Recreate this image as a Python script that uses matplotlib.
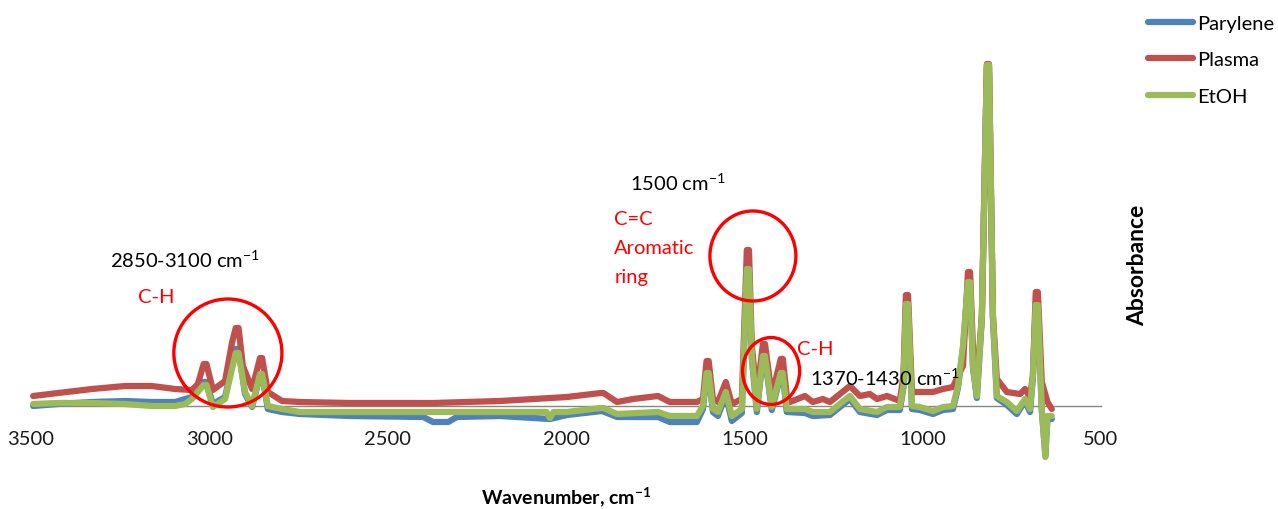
import matplotlib
matplotlib.use("Agg")
import matplotlib.pyplot as plt
from matplotlib.patches import Ellipse

plt.rcParams["font.family"] = ["Lato", "DejaVu Sans"]
plt.rcParams["mathtext.default"] = "regular"

# FTIR spectra: wavenumber (cm-1) and absorbance for each sample
wn_parylene = [3494, 3424, 3329, 3236, 3161, 3096, 3049, 3016, 3008, 2990, 2956, 2926, 2918, 2900,
               2880, 2858, 2852, 2836, 2796, 2746, 2606, 2400, 2373, 2330, 2306, 2185, 2045, 1997, 1899,
               1857, 1742, 1709, 1633, 1616, 1606, 1600, 1588, 1574, 1552, 1535, 1507, 1493, 1487,
               1479, 1465, 1448, 1442, 1423, 1398, 1392, 1381, 1330, 1308, 1260, 1204, 1176, 1128,
               1100, 1064, 1054, 1047, 1041, 1030, 1008, 971, 943, 915, 901, 887, 873, 867, 859,
               848, 834, 820, 814, 803, 792, 764, 736, 713, 699, 691, 683, 677, 666, 656, 650, 638]
abs_parylene = [0.000, 0.002, 0.004, 0.005, 0.004, 0.004, 0.009, 0.024, 0.024, 0.002, 0.009, 0.057, 0.057, 0.012,
                -0.001, 0.031, 0.031, -0.003, -0.006, -0.008, -0.010, -0.011, -0.016, -0.016, -0.011, -0.010, -0.013, -0.009, -0.005,
                -0.011, -0.011, -0.016, -0.016, -0.003, 0.031, 0.031, -0.006, -0.010, 0.011, -0.015, -0.007, 0.136, 0.136,
                0.048, -0.006, 0.048, 0.048, -0.004, 0.031, 0.031, -0.006, -0.007, -0.010, -0.009, 0.007, -0.006, -0.009,
                -0.004, -0.004, 0.018, 0.100, 0.100, -0.003, -0.004, -0.008, -0.004, -0.003, 0.018, 0.057, 0.122, 0.122, 0.038,
                0.008, 0.088, 0.339, 0.339, 0.088, 0.008, 0.001, -0.008, 0.005, -0.006, 0.028, 0.099, 0.099, -0.005, -0.048, -0.012, -0.013]

wn_plasma = [3494, 3424, 3329, 3236, 3161, 3096, 3049, 3032, 3016, 3008, 2990, 2956, 2936, 2926, 2918,
             2906, 2880, 2858, 2852, 2836, 2796, 2746, 2606, 2373, 2185, 1997, 1903, 1895, 1857, 1812,
             1742, 1709, 1633, 1616, 1606, 1600, 1588, 1574, 1552, 1535, 1507, 1493, 1487, 1479, 1465,
             1448, 1442, 1423, 1398, 1392, 1381, 1372, 1330, 1308, 1280, 1260, 1204, 1176, 1148, 1128,
             1100, 1064, 1054, 1047, 1041, 1030, 1008, 971, 943, 915, 901, 887, 873, 867, 859, 848,
             834, 820, 814, 803, 792, 764, 727, 713, 699, 691, 683, 677, 666, 650, 638]
abs_plasma = [0.010, 0.013, 0.017, 0.020, 0.020, 0.017, 0.016, 0.022, 0.042, 0.042, 0.016, 0.025, 0.064, 0.078, 0.078,
              0.040, 0.017, 0.048, 0.048, 0.014, 0.005, 0.004, 0.003, 0.003, 0.005, 0.009, 0.013, 0.013, 0.004, 0.007,
              0.010, 0.004, 0.004, 0.007, 0.045, 0.045, 0.007, 0.004, 0.024, 0.002, 0.007, 0.156, 0.156, 0.060, 0.010,
              0.062, 0.062, 0.010, 0.047, 0.047, 0.010, 0.004, 0.010, 0.004, 0.007, 0.004, 0.020, 0.010, 0.012, 0.007,
              0.010, 0.005, 0.030, 0.111, 0.111, 0.014, 0.014, 0.014, 0.017, 0.019, 0.030, 0.040, 0.134, 0.134, 0.057, 0.024,
              0.090, 0.342, 0.342, 0.090, 0.027, 0.014, 0.012, 0.017, 0.009, 0.030, 0.114, 0.114, 0.024, 0.004, -0.003]

wn_etoh = [3494, 3424, 3329, 3236, 3161, 3096, 3068, 3049, 3016, 3008, 2990, 2956, 2926, 2918, 2900,
           2880, 2858, 2852, 2836, 2796, 2746, 2373, 2185, 2055, 2045, 2035, 1997, 1903, 1895, 1857,
           1742, 1709, 1633, 1616, 1606, 1600, 1588, 1574, 1552, 1535, 1507, 1493, 1487, 1479, 1465,
           1448, 1442, 1423, 1398, 1392, 1381, 1330, 1308, 1260, 1204, 1176, 1128, 1100, 1064, 1054,
           1047, 1041, 1030, 1008, 971, 943, 915, 901, 887, 873, 867, 859, 848, 834, 820, 814, 803, 792,
           764, 736, 713, 699, 691, 683, 677, 666, 656, 650, 638]
abs_etoh = [0.002, 0.003, 0.003, 0.002, 0.000, 0.000, 0.002, 0.007, 0.021, 0.021, -0.001, 0.007, 0.053, 0.053, 0.014,
            0.000, 0.032, 0.032, 0.000, -0.003, -0.006, -0.006, -0.006, -0.006, -0.012, -0.006, -0.006, -0.002, -0.002, -0.008,
            -0.006, -0.010, -0.010, 0.000, 0.033, 0.033, -0.003, -0.006, 0.014, -0.010, -0.003, 0.137, 0.137, 0.050, -0.003,
            0.050, 0.050, -0.001, 0.033, 0.033, -0.003, -0.003, -0.006, -0.006, 0.010, -0.003, -0.006, -0.001, -0.001, 0.020,
            0.102, 0.102, 0.000, -0.001, -0.005, -0.001, 0.000, 0.020, 0.060, 0.124, 0.124, 0.040, 0.010, 0.090, 0.341, 0.341, 0.090, 0.010,
            0.004, -0.005, 0.007, -0.003, 0.030, 0.101, 0.101, -0.003, -0.051, -0.010, -0.010]

series_names = ["Parylene", "Plasma", "EtOH"]
series_colors = ["#4F81BD", "#C0504D", "#9BBB59"]
x_ticks = [3500, 3000, 2500, 2000, 1500, 1000, 500]

W, H = 1278, 510
fig = plt.figure(figsize=(W / 100, H / 100), dpi=100)
ax = fig.add_axes([31 / W, (H - 470) / H, 1070 / W, 430 / H])
ax.set_xlim(3500, 500)
ax.set_ylim(-0.063, 0.367)

for wn, ab, name, col in zip([wn_parylene, wn_plasma, wn_etoh],
                             [abs_parylene, abs_plasma, abs_etoh],
                             series_names, series_colors):
    ax.plot(wn, ab, color=col, lw=4.5, label=name, solid_joinstyle="round",
            solid_capstyle="round", clip_on=False, zorder=3)

# axis styling: only the baseline at zero is drawn
for side in ["top", "left", "right"]:
    ax.spines[side].set_visible(False)
ax.spines["bottom"].set_position(("data", 0))
ax.spines["bottom"].set_color("#868686")
ax.spines["bottom"].set_linewidth(1.0)
ax.spines["bottom"].set_zorder(2)
ax.set_yticks([])
ax.set_xticks(x_ticks)
ax.set_xticklabels([str(t) for t in x_ticks])
ax.tick_params(axis="x", length=0, pad=17, labelsize=14.5, labelcolor="#1a1a1a")

ax.set_xlabel("Wavenumber, cm$^{-1}$", fontsize=14, fontweight="bold")
ax.xaxis.set_label_coords(0.5, -0.063)
ax.xaxis.label.set_va("center")

ax.yaxis.set_label_position("right")
ax.set_ylabel("Absorbance", fontsize=16.5, fontweight="bold", rotation=90)
ax.yaxis.set_label_coords(1.0346, 0.4767)
ax.yaxis.label.set_va("center")
ax.yaxis.label.set_ha("center")

# band annotations
red = "#FF0000"
ax.text(3278, 0.147, "2850-3100 cm$^{-1}$", fontsize=14.5, ha="left", va="center")
ax.text(3200, 0.109, "C-H", fontsize=14.5, color=red, ha="left", va="center")
ax.add_patch(Ellipse((2948, 0.053), 303, 0.108, fill=False, ec=red, lw=2.4, zorder=4))

ax.text(1821, 0.224, "1500 cm$^{-1}$", fontsize=14.5, ha="left", va="center")
for txt, yv in zip(["C=C", "Aromatic", "ring"], [0.187, 0.158, 0.129]):
    ax.text(1865, yv, txt, fontsize=14.5, color=red, ha="left", va="center")
ax.add_patch(Ellipse((1476, 0.150), 241, 0.090, fill=False, ec=red, lw=2.4, zorder=4))

ax.add_patch(Ellipse((1425, 0.035), 160, 0.067, fill=False, ec=red, lw=2.4, zorder=4))
ax.text(1352, 0.057, "C-H", fontsize=14.5, color=red, ha="left", va="center")
ax.text(1316, 0.029, "1370-1430 cm$^{-1}$", fontsize=14.5, ha="left", va="center")

fig.legend(loc="upper left", bbox_to_anchor=(1148 / W, 1 - 16 / H), frameon=False,
           fontsize=14.5, handlelength=2.25, handletextpad=0.2, labelspacing=0.95,
           borderpad=0, borderaxespad=0)

fig.savefig("out.png", dpi=100)
